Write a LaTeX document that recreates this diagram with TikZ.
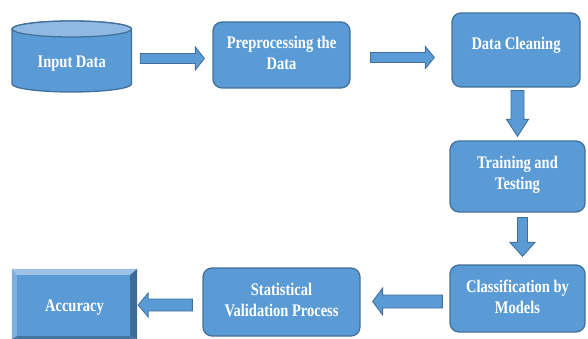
\documentclass[tikz,border=0pt]{standalone}
\usepackage{fontspec}
\setmainfont{Liberation Serif}
\usepackage{graphicx}
\usetikzlibrary{calc}
\definecolor{boxblue}{HTML}{5B9BD5}
\definecolor{boxedge}{HTML}{41719C}
\definecolor{toplight}{HTML}{8FB9E3}
\definecolor{bevtop}{HTML}{9CC2E8}
\definecolor{bevleft}{HTML}{80AEDC}
\definecolor{bevright}{HTML}{3D6C9A}
\definecolor{bevbot}{HTML}{44749F}
\newcommand\tx[1]{\scalebox{1}[1.22]{\begin{tabular}{@{}c@{}}#1\end{tabular}}}
\newcommand\blockarrow[5]{%
  \coordinate (ba-s) at #4;
  \coordinate (ba-e) at #5;
  \coordinate (ba-h) at ($(ba-e)!#3!(ba-s)$);
  \filldraw[blockarr] ($(ba-s)!#1!90:(ba-e)$) -- ($(ba-h)!#1!90:(ba-e)$) -- ($(ba-h)!#2!90:(ba-e)$) -- (ba-e) -- ($(ba-h)!#2!-90:(ba-e)$) -- ($(ba-h)!#1!-90:(ba-e)$) -- ($(ba-s)!#1!-90:(ba-e)$) -- cycle;
}
\tikzset{
  box/.style={rounded corners=9pt, fill=boxblue, draw=boxedge, line width=1.3pt, inner sep=0pt},
  lbl/.style={text=white, font=\fontsize{14.5}{17}\selectfont\bfseries, inner sep=0pt, align=center},
  blockarr/.style={fill=boxblue, draw=boxedge, line width=0.9pt, line join=miter},
  cylstyle/.style={fill=boxblue, draw=boxedge, line width=1.3pt}
}
\begin{document}
\begin{tikzpicture}[x=1pt,y=-1pt]
\useasboundingbox (0,0) rectangle (588,339);
\fill[white] (0,0) rectangle (588,339);

% Input Data cylinder
\node[inner sep=0pt, minimum width=119.5pt, minimum height=71pt] (in) at (71.75,56.5) {};
\filldraw[cylstyle] (12,29) -- (12,84) arc[start angle=180, end angle=360, x radius=59.75pt, y radius=8pt] -- (131.5,29) arc[start angle=0, end angle=180, x radius=59.75pt, y radius=8pt] -- cycle;
\filldraw[cylstyle, fill=toplight] (71.75,29) ellipse [x radius=59.75pt, y radius=8pt];
\node[lbl] (inlbl) at ([yshift=-6.5pt]in.center) {\tx{Input Data}};

% Boxes
\node[box, minimum width=137pt, minimum height=66pt] (pre) at (281.5,55) {};
\node[lbl] (prelbl) at (pre.center) {\tx{Preprocessing the\\Data}};
\node[box, minimum width=128pt, minimum height=74pt] (clean) at (516,50) {};
\node[lbl] (cleanlbl) at ([yshift=5pt]clean.center) {\tx{Data Cleaning}};
\node[box, minimum width=135pt, minimum height=71pt] (train) at (517.5,176.5) {};
\node[lbl] (trainlbl) at ([yshift=2pt]train.center) {\tx{Training and\\Testing}};
\node[box, minimum width=135pt, minimum height=67pt] (cls) at (517.5,298.5) {};
\node[lbl] (clslbl) at (cls.center) {\tx{Classification by\\Models}};
\node[box, minimum width=157pt, minimum height=68pt] (stat) at (281.5,302) {};
\node[lbl] (statlbl) at (stat.center) {\tx{Statistical\\Validation Process}};

% Accuracy bevel box
\node[inner sep=0pt, minimum width=125pt, minimum height=70pt] (acc) at (74.5,304) {};
\fill[bevtop] (acc.north west) -- (acc.north east) -- ([shift={(-7pt,-6pt)}]acc.north east) -- ([shift={(5pt,-6pt)}]acc.north west) -- cycle;
\fill[bevleft] (acc.north west) -- ([shift={(5pt,-6pt)}]acc.north west) -- ([shift={(5pt,3pt)}]acc.south west) -- (acc.south west) -- cycle;
\fill[bevright] (acc.north east) -- (acc.south east) -- ([shift={(-7pt,3pt)}]acc.south east) -- ([shift={(-7pt,-6pt)}]acc.north east) -- cycle;
\fill[bevbot] (acc.south west) -- (acc.south east) -- ([shift={(-7pt,3pt)}]acc.south east) -- ([shift={(5pt,3pt)}]acc.south west) -- cycle;
\fill[boxblue] ([shift={(5pt,-6pt)}]acc.north west) rectangle ([shift={(-7pt,3pt)}]acc.south east);
\node[lbl] (acclbl) at ([yshift=-3pt]acc.center) {\tx{Accuracy}};

% Block arrows
\blockarrow{5pt}{11.5pt}{9pt}{([xshift=8.5pt,yshift=-2pt]in.east)}{([xshift=-8pt,yshift=-3.5pt]pre.west)}
\blockarrow{5pt}{11pt}{9pt}{([xshift=20pt,yshift=-2.5pt]pre.east)}{([xshift=-17pt,yshift=-7.5pt]clean.west)}
\blockarrow{6.5pt}{11pt}{17pt}{([xshift=1.5pt,yshift=-3pt]clean.south)}{([xshift=0pt,yshift=4pt]train.north)}
\blockarrow{5pt}{12.5pt}{14pt}{([xshift=5pt,yshift=-5pt]train.south)}{([xshift=5pt,yshift=8pt]cls.north)}
\blockarrow{6.5pt}{13.5pt}{10pt}{([xshift=-7pt,yshift=-3pt]cls.west)}{([xshift=12pt,yshift=0.5pt]stat.east)}
\blockarrow{6pt}{12pt}{10pt}{([xshift=-10pt,yshift=-3pt]stat.west)}{([xshift=1pt,yshift=-1pt]acc.east)}
\end{tikzpicture}
\end{document}
